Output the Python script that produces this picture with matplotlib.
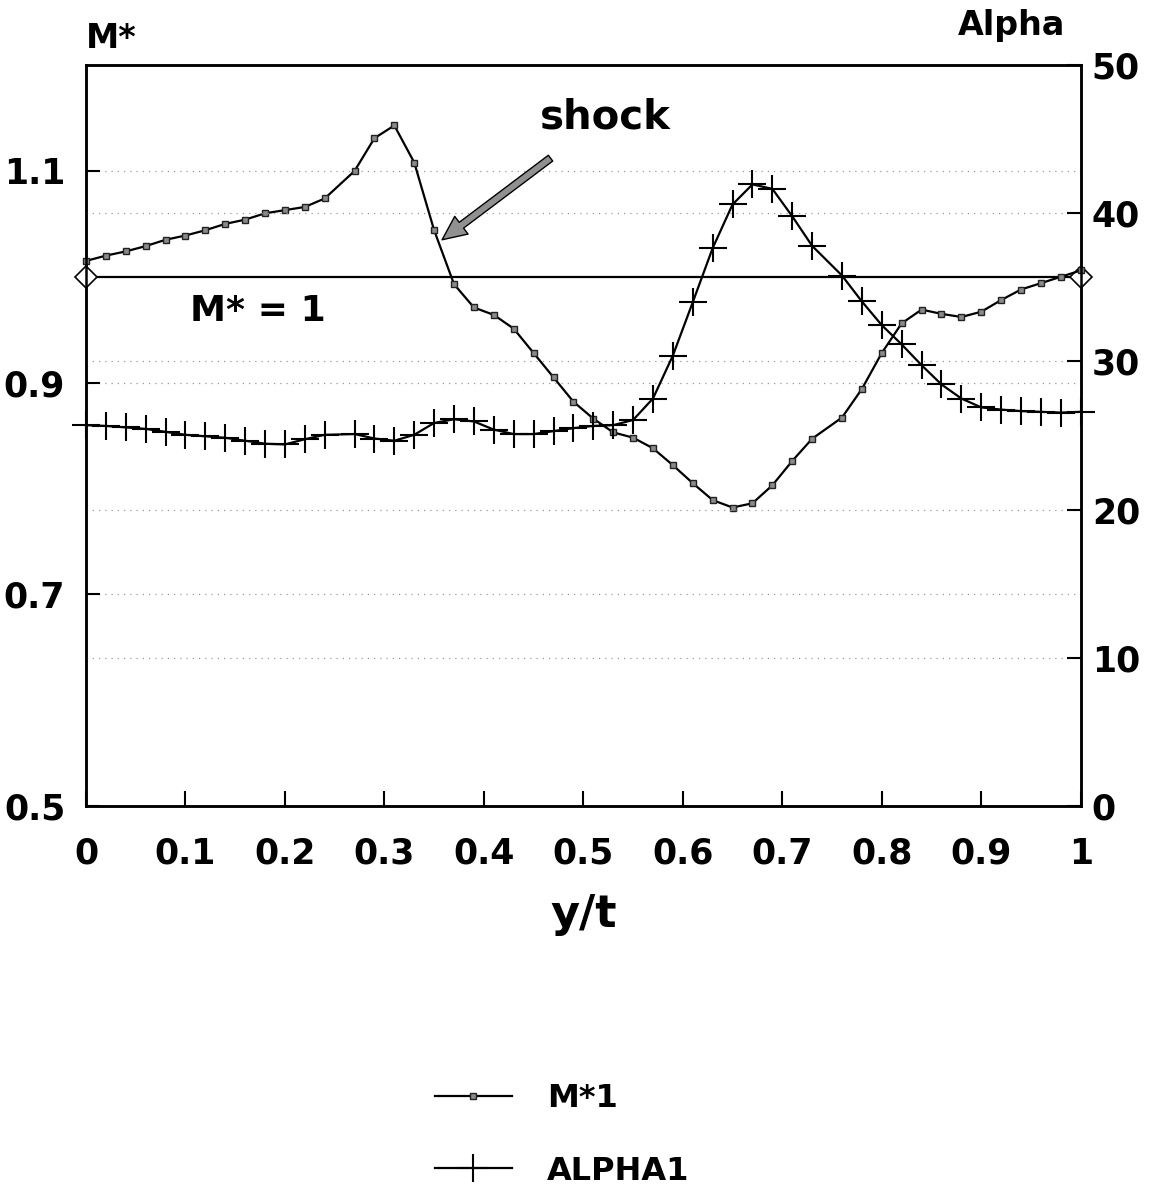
import numpy as np
import matplotlib
matplotlib.use("Agg")
import matplotlib.pyplot as plt

plt.rcParams["font.weight"] = "bold"
plt.rcParams["axes.labelweight"] = "bold"

# y/t positions of the computed points
y_t = [0.00, 0.02, 0.04, 0.06, 0.08, 0.10, 0.12, 0.14, 0.16, 0.18, 0.20, 0.22, 0.24,
       0.27, 0.29, 0.31, 0.33, 0.35, 0.37, 0.39, 0.41, 0.43, 0.45, 0.47, 0.49, 0.51,
       0.53, 0.55, 0.57, 0.59, 0.61, 0.63, 0.65, 0.67, 0.69, 0.71, 0.73,
       0.76, 0.78, 0.80, 0.82, 0.84, 0.86, 0.88, 0.90, 0.92, 0.94, 0.96, 0.98, 1.00]

# isentropic Mach number M*
m_star = [1.015, 1.020, 1.024, 1.029, 1.035, 1.039, 1.044, 1.050, 1.054, 1.060, 1.063, 1.066, 1.074,
          1.100, 1.131, 1.143, 1.108, 1.044, 0.993, 0.971, 0.964, 0.951, 0.928, 0.905, 0.882, 0.866,
          0.853, 0.848, 0.838, 0.822, 0.805, 0.789, 0.782, 0.786, 0.803, 0.826, 0.847,
          0.867, 0.894, 0.928, 0.956, 0.969, 0.965, 0.962, 0.967, 0.978, 0.988, 0.994, 1.000, 1.006]

# flow angle alpha (deg)
alpha = [25.7, 25.65, 25.55, 25.45, 25.25, 25.05, 24.95, 24.85, 24.65, 24.45, 24.4, 24.75, 25.05,
         25.1, 24.8, 24.65, 25.05, 25.85, 26.1, 25.95, 25.4, 25.1, 25.1, 25.3, 25.5, 25.65,
         25.7, 26.05, 27.5, 30.4, 34.0, 37.65, 40.6, 41.95, 41.65, 39.8, 37.8,
         35.8, 34.05, 32.45, 31.15, 29.75, 28.45, 27.5, 26.9, 26.75, 26.65, 26.6, 26.55, 26.6]

x_ticks = [0, 0.1, 0.2, 0.3, 0.4, 0.5, 0.6, 0.7, 0.8, 0.9, 1]
x_labels = ["0", "0.1", "0.2", "0.3", "0.4", "0.5", "0.6", "0.7", "0.8", "0.9", "1"]
m_ticks = [0.5, 0.7, 0.9, 1.1]
a_ticks = [0, 10, 20, 30, 40, 50]

fig = plt.figure(figsize=(11.54, 11.91), dpi=100)
ax = fig.add_axes([0.0745, 0.3233, 0.862, 0.622])
ax2 = ax.twinx()

ax.set_xlim(0, 1)
ax.set_ylim(0.5, 1.2)
ax2.set_ylim(0, 50)

# faint dotted grid for both scales
grid_kw = dict(color="#9a9a9a", lw=0.9, ls=(0, (1, 4)), zorder=0)
for m in [0.7, 0.9, 1.1]:
    ax.axhline(m, **grid_kw)
for a in [10, 20, 30, 40]:
    ax2.axhline(a, **grid_kw)

# M* = 1 reference line
ax.plot([0, 1], [1, 1], color="black", lw=1.6, marker="D", ms=11,
        mfc="white", mec="black", mew=1.2, clip_on=False, zorder=3)

l1, = ax.plot(y_t, m_star, color="black", lw=1.6, marker="s", ms=5,
              mfc="#8a8a8a", mec="#222222", mew=1.0, clip_on=False, zorder=4)
l2, = ax2.plot(y_t, alpha, color="black", lw=1.6, marker="+", ms=20,
               mew=1.5, clip_on=False, zorder=4)

for a_ in (ax, ax2):
    for s in a_.spines.values():
        s.set_linewidth(1.8)

ax.set_xticks(x_ticks)
ax.set_xticklabels(x_labels)
ax.set_yticks(m_ticks)
ax.set_yticklabels(["0.5", "0.7", "0.9", "1.1"])
ax2.set_yticks(a_ticks)

ax.tick_params(axis="x", direction="in", length=11, width=1.5, labelsize=25, pad=22)
ax.tick_params(axis="y", direction="in", length=10, width=1.5, labelsize=25, pad=15)
ax2.tick_params(axis="y", direction="in", length=10, width=1.5, labelsize=25, pad=8)

ax.set_xlabel("y/t", fontsize=32, labelpad=16, fontweight="bold")

fig.text(86 / 1154, 1 - 38 / 1191, "M*", fontsize=24, va="center", ha="left")
fig.text(1065 / 1154, 1 - 25 / 1191, "Alpha", fontsize=24, va="center", ha="right")

ax.text(0.173, 0.968, "M* = 1", fontsize=26, ha="center", va="center")
ax.annotate("shock", xy=(0.358, 1.035), xytext=(0.522, 1.151), fontsize=29,
            ha="center", va="center",
            arrowprops=dict(arrowstyle="simple,head_length=0.6,head_width=0.55,tail_width=0.18",
                            fc="#909090", ec="black", lw=1.0,
                            shrinkA=22, shrinkB=0))

fig.legend([l1, l2], ["M*1", "ALPHA1"], loc="upper left",
           bbox_to_anchor=(435 / 1154, 1 - 1083 / 1191), frameon=False,
           fontsize=23, handlelength=2.4, handletextpad=1.1, labelspacing=1.3,
           borderpad=0, borderaxespad=0)

fig.savefig("out.png", dpi=100)
